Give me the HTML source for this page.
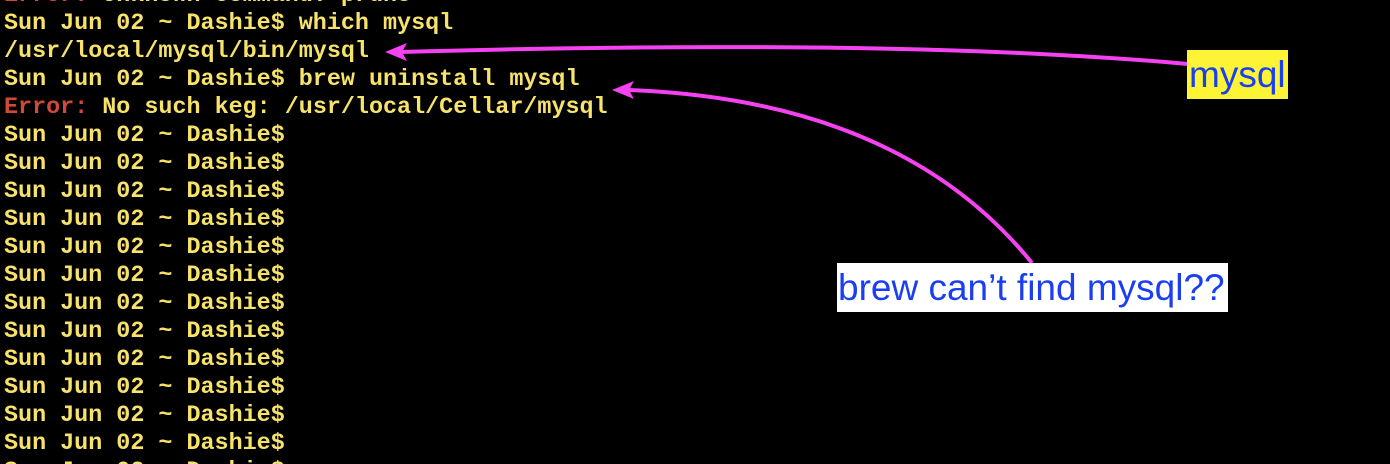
<!DOCTYPE html>
<html><head><meta charset="utf-8"><style>
html,body{margin:0;width:1390px;height:464px;overflow:hidden}
body{background:#000;position:relative}
#wrap{position:absolute;left:0;top:0;width:1390px;height:464px;overflow:hidden}
pre{margin:0;position:absolute;left:4px;top:-18px;font:bold 23.4px/28px "Liberation Mono",monospace;color:#f7e36b}
.r{color:#cf4a3a}
.lab{position:absolute;font:37px "Liberation Sans",sans-serif;color:#1b3ff0;line-height:50px;box-sizing:border-box;overflow:hidden;white-space:nowrap}
</style></head><body><div id="wrap">
<pre><span class="r">Error:</span> Unknown command: prune
Sun Jun 02 ~ Dashie$ which mysql
/usr/local/mysql/bin/mysql
Sun Jun 02 ~ Dashie$ brew uninstall mysql
<span class="r">Error:</span> No such keg: /usr/local/Cellar/mysql
Sun Jun 02 ~ Dashie$
Sun Jun 02 ~ Dashie$
Sun Jun 02 ~ Dashie$
Sun Jun 02 ~ Dashie$
Sun Jun 02 ~ Dashie$
Sun Jun 02 ~ Dashie$
Sun Jun 02 ~ Dashie$
Sun Jun 02 ~ Dashie$
Sun Jun 02 ~ Dashie$
Sun Jun 02 ~ Dashie$
Sun Jun 02 ~ Dashie$
Sun Jun 02 ~ Dashie$
Sun Jun 02 ~ Dashie$
Sun Jun 02 ~ Dashie$</pre>
<svg width="1390" height="464" style="position:absolute;left:0;top:0">
<path d="M1188,64 Q900,38 400,52" fill="none" stroke="#f542f0" stroke-width="4"/>
<polygon points="385,52 407,43 402,52 407,61" fill="#f542f0"/>
<path d="M1032,263 Q900,100 628,90" fill="none" stroke="#f542f0" stroke-width="4"/>
<polygon points="612,90 634,81 629,90 634,99" fill="#f542f0"/>
</svg>
<div class="lab" style="left:1187px;top:50px;width:101px;height:49px;background:#fcf434;padding-left:2px">mysql</div>
<div class="lab" style="left:837px;top:263px;width:391px;height:49px;background:#fff;padding-left:1px">brew can’t find mysql??</div>
</div></body></html>
